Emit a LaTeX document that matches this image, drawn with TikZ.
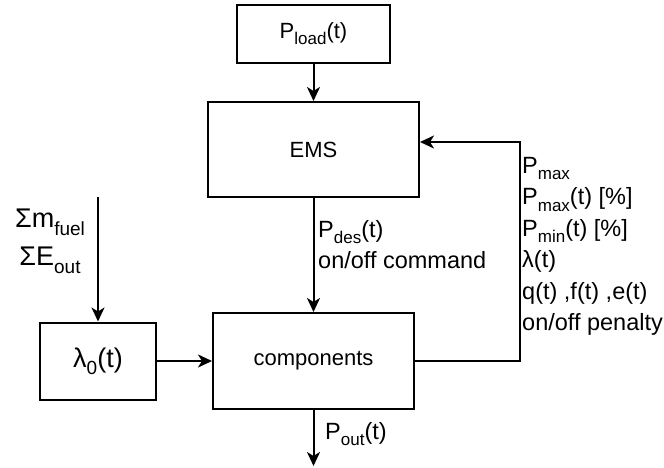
\documentclass[tikz,border=0pt]{standalone}
\usepackage{fontspec}
\setmainfont{Liberation Sans}
\usetikzlibrary{arrows.meta}
% lowered, smaller text for subscripts
\newcommand\lsub[1]{\raisebox{-0.27em}{\fontsize{17}{17}\selectfont #1}}
\newcommand\bsub[1]{\raisebox{-0.27em}{\fontsize{19}{19}\selectfont #1}}
\begin{document}
\begin{tikzpicture}[x=1pt,y=-1pt,
  blk/.style={draw,line width=2pt,rectangle,inner sep=0pt,
    font=\fontsize{22}{26}\selectfont},
  lbl/.style={inner sep=0pt,font=\fontsize{23.5}{31.5}\selectfont},
  biglbl/.style={inner sep=0pt,font=\fontsize{27}{38}\selectfont},
  flow/.style={line width=2pt,-{Stealth[length=14pt,width=13pt,inset=4pt]}},
  wire/.style={line width=2pt}]
\useasboundingbox (0,0) rectangle (664,468);

% blocks
\node[blk,minimum width=153pt,minimum height=58pt] (pload) at (313.5,34) {P\lsub{load}(t)};
\node[blk,minimum width=211pt,minimum height=95pt] (ems) at (313.5,149.5) {EMS};
\node[blk,minimum width=201pt,minimum height=96pt] (comp) at (313.5,361) {components};
\node[blk,minimum width=116pt,minimum height=77pt,
  font=\fontsize{27}{30}\selectfont] (lam) at (98,361) {λ\bsub{0}(t)};

% free ends and corners
\coordinate (lamin) at (98,197);
\coordinate (out) at (313.5,466);
\coordinate (fb) at (520,142);

% connectors
\draw[flow] (pload.south) -- (ems.north);
\draw[flow] (ems.south) -- (comp.north);
\draw[flow] (lamin) -- (lam.north);
\draw[flow] (lam.east) -- (comp.west);
\draw[flow] (comp.south) -- (out);
\draw[flow] (comp.east) -| (fb) -- (ems.east |- fb);

% labels
\node[biglbl,align=center,anchor=north] (sums) at (50,209)
  {Σm\bsub{fuel}\\ΣE\bsub{out}};
\node[lbl,align=left,anchor=north west] (cmd) at (318,220)
  {P\lsub{des}(t)\\on/off command};
\node[lbl,anchor=north west] (pout) at (325,422) {P\lsub{out}(t)};
\node[lbl,align=left,anchor=north west] (pars) at (522,157)
  {P\lsub{max}\\P\lsub{max}(t) [\%]\\P\lsub{min}(t) [\%]\\λ(t)\\q(t) ,f(t) ,e(t)\\on/off penalty};
\end{tikzpicture}
\end{document}
